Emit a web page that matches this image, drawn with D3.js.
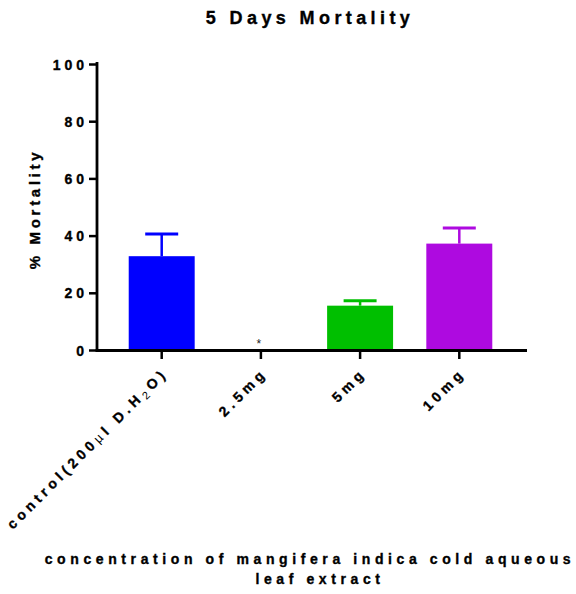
<!DOCTYPE html>
<html><head><meta charset="utf-8">
<script src="https://cdn.jsdelivr.net/npm/d3@7"></script>
<style>
body{margin:0;background:#fff;}
svg{display:block;font-family:"Liberation Sans",Arial,sans-serif;}
.hv{stroke:#000;stroke-width:0.35px;}
</style></head>
<body><svg id="c" width="576" height="594"></svg>
<script>
const categories = ["control", "2.5mg", "5mg", "10mg"];
const means = [32.8, 0, 15.5, 37.2];
const errors = [7.8, 0, 1.7, 5.5];
const colors = ["#0000ff", "#00bf00", "#00bf00", "#ae0ae0"];
const yTicks = [0, 20, 40, 60, 80, 100];
const title = "5 Days Mortality";
const yTitle = "% Mortality";
const xTitle = ["concentration of mangifera indica cold aqueous", "leaf extract"];
const sigMarks = ["", "*", "", ""];

const svg = d3.select("#c");
const y = d3.scaleLinear().domain([0, 100]).range([350, 64]);
const x = d3.scaleBand().domain(categories).range([112.1, 508.9]).paddingInner(0).paddingOuter(0);
const bw = x.bandwidth() * 0.665;
const cx = d => x(d) + x.bandwidth() / 2;

// bars
svg.selectAll("rect.bar").data(categories).join("rect")
  .attr("class", "bar")
  .attr("x", d => cx(d) - bw / 2)
  .attr("width", bw)
  .attr("y", (d, i) => y(means[i]))
  .attr("height", (d, i) => y(0) - y(means[i]))
  .attr("fill", (d, i) => colors[i]);

// error bars (upper only)
const eg = svg.append("g");
categories.forEach((c, i) => {
  if (errors[i] <= 0) return;
  eg.append("line").attr("x1", cx(c)).attr("x2", cx(c))
    .attr("y1", y(means[i])).attr("y2", y(means[i] + errors[i]))
    .attr("stroke", colors[i]).attr("stroke-width", 2.5);
  eg.append("line").attr("x1", cx(c) - bw / 4).attr("x2", cx(c) + bw / 4)
    .attr("y1", y(means[i] + errors[i])).attr("y2", y(means[i] + errors[i]))
    .attr("stroke", colors[i]).attr("stroke-width", 3);
});

// significance marks
svg.selectAll("text.sig").data(categories).join("text")
  .attr("class", "sig")
  .attr("x", d => cx(d) - 2)
  .attr("y", y(0) - 2)
  .attr("text-anchor", "middle")
  .attr("font-size", 12)
  .attr("fill", "#222")
  .text((d, i) => sigMarks[i]);

// y axis
const yAxis = svg.append("g").attr("transform", "translate(97,0)")
  .call(d3.axisLeft(y).tickValues(yTicks).tickSize(8).tickPadding(5).tickFormat(d3.format("d")));
yAxis.select(".domain").remove();
yAxis.selectAll(".tick line").attr("stroke", "#000").attr("stroke-width", 2.5);
yAxis.selectAll(".tick text").attr("font-size", 14).attr("font-weight", "bold")
  .attr("font-family", "Liberation Sans, Arial, sans-serif").attr("class", "hv")
  .attr("letter-spacing", "4px").attr("dx", "4px").attr("dy", "0.36em").attr("fill", "#000");
svg.append("line").attr("x1", 97).attr("x2", 97).attr("y1", 62).attr("y2", 351.5)
  .attr("stroke", "#000").attr("stroke-width", 2.8);

// x axis
const xAxis = svg.append("g").attr("transform", "translate(0,350)")
  .call(d3.axisBottom(x).tickSize(9).tickFormat(""));
xAxis.select(".domain").remove();
xAxis.selectAll(".tick line").attr("stroke", "#000").attr("stroke-width", 2.5);
svg.append("line").attr("x1", 95.6).attr("x2", 527).attr("y1", 350.5).attr("y2", 350.5)
  .attr("stroke", "#000").attr("stroke-width", 3);

// x tick labels (rotated)
const lab = svg.append("g").attr("font-size", 14).attr("font-weight", "bold").attr("fill", "#000");
categories.forEach((c, i) => {
  const t = lab.append("text").attr("class", "hv")
    .attr("transform", `translate(${cx(c) + 7},${374}) rotate(-45)`)
    .attr("text-anchor", "end")
    .attr("letter-spacing", "4.2px");
  if (i === 0) {
    t.append("tspan").text("control(200");
    t.append("tspan").attr("font-weight", "normal").attr("font-size", 13).attr("stroke-width", 0).text("µ");
    t.append("tspan").text("l D.H");
    t.append("tspan").attr("font-weight", "normal").attr("font-size", 11).attr("stroke-width", 0).attr("dy", 3).text("2");
    t.append("tspan").attr("dy", -3).text("O)");
  } else {
    t.text(c);
  }
});

// title
svg.append("text").attr("x", 310).attr("y", 24.3).attr("text-anchor", "middle").attr("class", "hv")
  .attr("font-size", 18).attr("font-weight", "bold").attr("letter-spacing", "4.4px")
  .text(title);

// y title
svg.append("text").attr("transform", "translate(40,209) rotate(-90)").attr("class", "hv")
  .attr("text-anchor", "middle").attr("font-size", 15).attr("font-weight", "bold")
  .attr("letter-spacing", "3.7px").text(yTitle);

// x title
svg.append("text").attr("x", 310).attr("y", 564).attr("text-anchor", "middle").attr("class", "hv")
  .attr("font-size", 14).attr("font-weight", "bold").attr("letter-spacing", "4.6px").text(xTitle[0]);
svg.append("text").attr("x", 320).attr("y", 584).attr("text-anchor", "middle").attr("class", "hv")
  .attr("font-size", 14).attr("font-weight", "bold").attr("letter-spacing", "4.6px").text(xTitle[1]);
</script></body></html>
